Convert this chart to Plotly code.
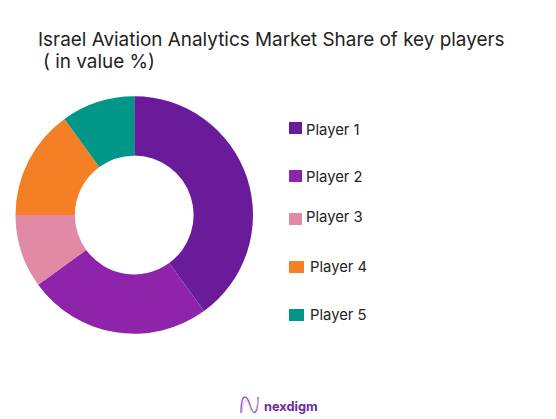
import plotly.graph_objects as go

W, H = 556, 419

players = ["Player 1", "Player 2", "Player 3", "Player 4", "Player 5"]
shares = [40, 25, 10, 15, 10]
colors = ["#6A1B9A", "#8E24AA", "#E08AA6", "#F57F25", "#009688"]

# legend was placed by hand in the original, so spacing is uneven
legend_box_x = [289, 289, 289, 289, 289]
legend_box_w = [13, 13, 13, 15, 15]
legend_box_y = [128, 176, 219, 267, 315]
legend_text_x = [304, 304, 304, 308, 308]
legend_text_y = [130, 177, 217, 267, 315]


def px(x):
    return x / W


def py(y):
    return 1 - y / H


fig = go.Figure()
fig.add_trace(go.Pie(labels=players, values=shares, hole=0.5, sort=False,
                     direction="clockwise", rotation=0,
                     marker=dict(colors=colors, line=dict(width=0)),
                     textinfo="none", hoverinfo="label+percent",
                     domain=dict(x=[px(15.5), px(253)], y=[py(334), py(96)]),
                     showlegend=False))

shapes = []
annotations = []
for i, name in enumerate(players):
    shapes.append(dict(type="rect", xref="paper", yref="paper", line_width=0,
                       fillcolor=colors[i],
                       x0=px(legend_box_x[i]), x1=px(legend_box_x[i] + legend_box_w[i]),
                       y0=py(legend_box_y[i] - 6), y1=py(legend_box_y[i] + 6)))
    annotations.append(dict(text=name, xref="paper", yref="paper", showarrow=False,
                            x=px(legend_text_x[i]), y=py(legend_text_y[i]),
                            xanchor="left", yanchor="middle",
                            font=dict(family="Inter", size=14.8, color="#222222")))

annotations.append(dict(text="Israel Aviation Analytics Market Share of key players",
                        xref="paper", yref="paper", showarrow=False,
                        x=px(36), y=py(39), xanchor="left", yanchor="middle",
                        font=dict(family="Inter", size=18.9, color="#222222")))
annotations.append(dict(text="( in value %)", xref="paper", yref="paper", showarrow=False,
                        x=px(41), y=py(61), xanchor="left", yanchor="middle",
                        font=dict(family="Inter", size=18.9, color="#222222")))
annotations.append(dict(text="<b>nexdigm</b>", xref="paper", yref="paper", showarrow=False,
                        x=px(262), y=py(406), xanchor="left", yanchor="middle",
                        font=dict(family="Inter", size=12.8, color="#6A2C9E")))

# logo wave, two strands
shapes.append(dict(type="path", xref="paper", yref="paper",
                   path=f"M {px(241)} {py(413)} C {px(241)} {py(392)}, {px(247)} {py(394)}, {px(250)} {py(405)} "
                        f"S {px(258)} {py(416)}, {px(258)} {py(397)}",
                   line=dict(color="#9B59C9", width=1.5)))
shapes.append(dict(type="path", xref="paper", yref="paper",
                   path=f"M {px(242)} {py(413)} C {px(243)} {py(398)}, {px(247)} {py(398)}, {px(250)} {py(407)} "
                        f"S {px(257)} {py(412)}, {px(258)} {py(399)}",
                   line=dict(color="#D9B8EC", width=1)))

fig.update_layout(width=W, height=H, margin=dict(l=0, r=0, t=0, b=0),
                  paper_bgcolor="white", shapes=shapes, annotations=annotations)

# drop the default page margin so the figure fills the window
fig.write_html("out.html", post_script="document.body.style.margin='0';",
               config=dict(displayModeBar=False))
